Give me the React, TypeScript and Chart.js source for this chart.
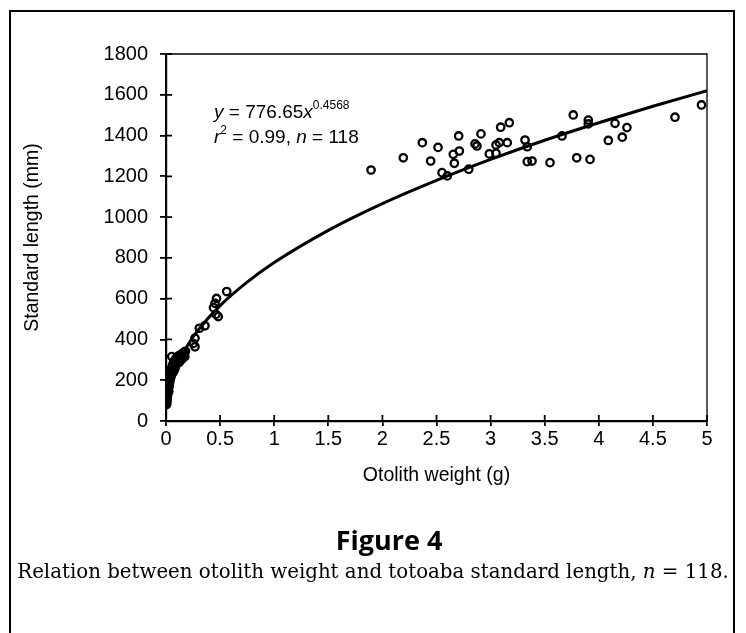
import React, { useEffect, useRef } from 'react';
import { Chart, registerables } from 'chart.js';

Chart.register(...registerables);

// Small otoliths (dense cluster near the origin)
const clusterWeights = [
  0.004, 0.005, 0.006, 0.007, 0.008, 0.009, 0.010, 0.011, 0.012, 0.013,
  0.015, 0.016, 0.018, 0.019, 0.020, 0.022, 0.023, 0.025, 0.026, 0.028,
  0.030, 0.031, 0.033, 0.034, 0.036, 0.038, 0.040, 0.041, 0.044, 0.046,
  0.048, 0.050, 0.052, 0.055, 0.058, 0.060, 0.063, 0.065, 0.068, 0.071,
  0.073, 0.075, 0.078, 0.081, 0.083, 0.086, 0.089, 0.091, 0.094, 0.098,
  0.101, 0.104, 0.108, 0.113, 0.118, 0.122, 0.127, 0.132, 0.137, 0.142,
  0.147, 0.152, 0.157, 0.162, 0.168, 0.174, 0.180,
];
const clusterLengths = [
  80, 92, 104, 86, 115, 100, 125, 110, 140, 120,
  150, 132, 162, 140, 150, 175, 160, 188, 145, 198,
  172, 208, 185, 195, 222, 205, 215, 238, 228, 248,
  218, 258, 235, 244, 268, 252, 278, 238, 262, 288,
  272, 248, 296, 282, 258, 292, 305, 272, 298, 284,
  312, 302, 292, 318, 306, 288, 322, 312, 298, 328,
  318, 306, 332, 322, 338, 316, 342,
];

// Medium otoliths (0.05 - 0.6 g)
const midWeights = [0.053, 0.252, 0.268, 0.268, 0.308, 0.36, 0.439, 0.453, 0.462, 0.467, 0.483, 0.561];
const midLengths = [316, 380, 364, 406, 455, 467, 556, 577, 523, 601, 512, 635];

// Large otoliths (1.8 - 5 g)
const largeWeights = [
  1.895, 2.193, 2.369, 2.446, 2.514, 2.551, 2.6, 2.655, 2.665, 2.705,
  2.711, 2.798, 2.856, 2.874, 2.911, 2.988, 3.05, 3.05, 3.08, 3.093,
  3.154, 3.173, 3.318, 3.339, 3.339, 3.383, 3.549, 3.66, 3.764, 3.796,
  3.903, 3.903, 3.919, 4.088, 4.15, 4.217, 4.26, 4.704, 4.949,
];
const largeLengths = [
  1231, 1291, 1365, 1275, 1342, 1218, 1202, 1308, 1264, 1398,
  1324, 1235, 1359, 1349, 1408, 1310, 1313, 1354, 1365, 1441,
  1365, 1463, 1378, 1345, 1272, 1275, 1267, 1398, 1501, 1291,
  1476, 1457, 1283, 1376, 1460, 1392, 1439, 1490, 1550,
];

// Fitted power curve
const curveWeights = [0.005, 0.01, 0.02, 0.05, 0.1, 0.2, 0.3, 0.5, 0.75, 1, 1.5, 2, 2.5, 3, 3.5, 4, 4.5, 5];
const curveLengths = [69, 95, 130, 198, 271, 372, 448, 566, 681, 777, 935, 1066, 1180, 1283, 1377, 1463, 1544, 1620];

const xTickLabels = ['0', '0.5', '1', '1.5', '2', '2.5', '3', '3.5', '4', '4.5', '5'];
const yTickLabels = ['0', '200', '400', '600', '800', '1000', '1200', '1400', '1600', '1800'];

const SANS = '"Liberation Sans", Arial, Helvetica, sans-serif';

const decorPlugin = {
  id: 'decor',
  afterDraw(chart: any) {
    const { ctx, chartArea: a, scales } = chart;
    const xs = scales.x;
    const ys = scales.y;
    ctx.save();
    ctx.strokeStyle = '#000';
    // plot frame top & right
    ctx.lineWidth = 1.3;
    ctx.beginPath();
    ctx.moveTo(a.left, a.top);
    ctx.lineTo(a.right, a.top);
    ctx.lineTo(a.right, a.bottom);
    ctx.stroke();
    // inward halves of tick marks
    ctx.lineWidth = 1.8;
    ctx.beginPath();
    ys.ticks.forEach((t: any) => {
      const y = ys.getPixelForValue(t.value);
      ctx.moveTo(a.left, y);
      ctx.lineTo(a.left + 6, y);
    });
    xs.ticks.forEach((t: any) => {
      const x = xs.getPixelForValue(t.value);
      ctx.moveTo(x, a.bottom);
      ctx.lineTo(x, a.bottom - 6);
    });
    ctx.stroke();

    // regression equation
    const x0 = xs.getPixelForValue(0.444);
    const y1 = ys.getPixelForValue(1511);
    const y2 = ys.getPixelForValue(1388);
    ctx.fillStyle = '#000';
    ctx.textBaseline = 'middle';
    ctx.textAlign = 'left';
    const parts1: [string, string, number][] = [
      ['y', 'italic', 0],
      [' = 776.65', 'normal', 0],
      ['x', 'italic', 0],
      ['0.4568', 'sup', -7],
    ];
    const parts2: [string, string, number][] = [
      ['r', 'italic', 0],
      ['2', 'sup', -7],
      [' = 0.99, ', 'normal', 0],
      ['n', 'italic', 0],
      [' = 118', 'normal', 0],
    ];
    const drawParts = (parts: [string, string, number][], y: number) => {
      let x = x0;
      parts.forEach(([txt, style, dy]) => {
        if (style === 'sup') ctx.font = `12px ${SANS}`;
        else if (style === 'italic') ctx.font = `italic 19px ${SANS}`;
        else ctx.font = `19px ${SANS}`;
        ctx.fillText(txt, x, y + dy);
        x += ctx.measureText(txt).width;
      });
    };
    drawParts(parts1, y1);
    drawParts(parts2, y2);
    ctx.restore();
  },
};

export default function App() {
  const canvasRef = useRef<HTMLCanvasElement | null>(null);

  useEffect(() => {
    if (!canvasRef.current) return;
    const points = [
      ...clusterWeights.map((w, i) => ({ x: w, y: clusterLengths[i] })),
      ...midWeights.map((w, i) => ({ x: w, y: midLengths[i] })),
      ...largeWeights.map((w, i) => ({ x: w, y: largeLengths[i] })),
    ];
    const curve = curveWeights.map((w, i) => ({ x: w, y: curveLengths[i] }));

    const chart = new Chart(canvasRef.current, {
      type: 'scatter',
      data: {
        datasets: [
          {
            type: 'line',
            label: 'Fit',
            data: curve,
            borderColor: '#000',
            borderWidth: 3,
            pointRadius: 0,
            fill: false,
            cubicInterpolationMode: 'monotone',
          } as any,
          {
            label: 'Observed',
            data: points,
            pointStyle: 'circle',
            pointRadius: 3.7,
            pointBorderWidth: 2.3,
            borderColor: '#000',
            backgroundColor: 'rgba(0,0,0,0)',
          } as any,
        ],
      },
      options: {
        animation: false,
        responsive: false,
        maintainAspectRatio: false,
        layout: { padding: { left: 0, top: 54, right: 39, bottom: 0 } },
        plugins: {
          legend: { display: false },
          tooltip: { enabled: false },
        },
        scales: {
          x: {
            type: 'linear',
            min: 0,
            max: 5,
            afterFit: (s: any) => { s.height = 212; },
            ticks: {
              stepSize: 0.5,
              color: '#000',
              padding: 1,
              font: { family: SANS, size: 20 },
              callback: (_v: any, i: number) => xTickLabels[i],
              maxRotation: 0,
              autoSkip: false,
            },
            grid: { display: true, drawOnChartArea: false, drawTicks: true, tickLength: 5, color: '#000', lineWidth: 1.8 },
            border: { display: true, color: '#000', width: 2.2 },
            title: {
              display: true,
              text: 'Otolith weight (g)',
              color: '#000',
              font: { family: SANS, size: 19.5 },
              padding: { top: 0, bottom: 146 },
            },
          },
          y: {
            type: 'linear',
            min: 0,
            max: 1800,
            afterFit: (s: any) => { s.width = 166; },
            ticks: {
              stepSize: 200,
              color: '#000',
              padding: 12,
              font: { family: SANS, size: 20 },
              callback: (_v: any, i: number) => yTickLabels[i],
            },
            grid: { display: true, drawOnChartArea: false, drawTicks: true, tickLength: 6, color: '#000', lineWidth: 1.8 },
            border: { display: true, color: '#000', width: 2.2 },
            title: {
              display: true,
              text: 'Standard length (mm)',
              color: '#000',
              font: { family: SANS, size: 19.5 },
              padding: { top: 21, bottom: 0 },
            },
          },
        },
      },
      plugins: [decorPlugin],
    });
    return () => chart.destroy();
  }, []);

  return (
    <div style={{ position: 'fixed', left: 0, top: 0, width: 746, height: 633, overflow: 'hidden', background: '#fff' }}>
      <canvas ref={canvasRef} width={746} height={633} style={{ position: 'absolute', left: 0, top: 0, width: 746, height: 633 }} />
      <div
        style={{
          position: 'absolute', left: 9, top: 10, width: 722, height: 700,
          borderLeft: '2px solid #000', borderTop: '2px solid #000', borderRight: '2px solid #000',
          pointerEvents: 'none',
        }}
      />
      <div
        style={{
          position: 'absolute', left: 289, width: 200, top: 523, textAlign: 'center',
          fontFamily: '"Open Sans", "Noto Sans", sans-serif', fontWeight: 700, fontSize: 27, lineHeight: '34px', color: '#000',
        }}
      >
        Figure 4
      </div>
      <div
        style={{
          position: 'absolute', left: 0, width: 746, top: 559, textAlign: 'center', whiteSpace: 'nowrap',
          fontFamily: '"DejaVu Serif", serif', fontSize: 19.8, lineHeight: '26px', color: '#000',
        }}
      >
        Relation between otolith weight and totoaba standard length, <i>n</i> = 118.
      </div>
    </div>
  );
}
